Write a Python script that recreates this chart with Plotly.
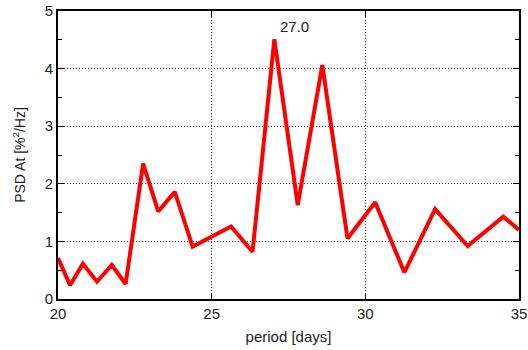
import plotly.graph_objects as go

period = [20.0, 20.39, 20.81, 21.27, 21.75, 22.2, 22.77, 23.26, 23.8, 24.38,
          25.63, 26.33, 27.04, 27.8, 28.6, 29.42, 30.32, 31.27, 32.27, 33.33,
          34.49, 35.0]
psd = [0.71, 0.24, 0.61, 0.30, 0.59, 0.26, 2.35, 1.52, 1.86, 0.91,
       1.26, 0.82, 4.51, 1.63, 4.06, 1.05, 1.68, 0.46, 1.56, 0.92,
       1.43, 1.20]
peak_label = "27.0"
peak_x = 27.04
peak_y = 4.51

fig = go.Figure()
fig.add_trace(go.Scatter(x=period, y=psd, mode="lines",
                         line=dict(color="#ff0000", width=4),
                         showlegend=False, cliponaxis=True))
fig.add_annotation(x=peak_x, y=peak_y, text=peak_label, showarrow=False,
                   xanchor="left", yanchor="bottom", xshift=4, yshift=2,
                   font=dict(size=15, color="#222"))

axis_common = dict(showline=True, linecolor="black", linewidth=2, mirror="ticks",
                   ticks="inside", ticklen=6, tickcolor="black",
                   showgrid=True, gridcolor="#333", griddash="1px,2px", gridwidth=1,
                   zeroline=False, tickfont=dict(size=15, color="#222"),
                   automargin=False)
fig.update_xaxes(range=[20, 35], tickvals=[20, 25, 30, 35],
                 title=dict(text="period [days]", font=dict(size=15, color="#222"), standoff=10),
                 **axis_common)
fig.update_yaxes(range=[0, 5], tickvals=[0, 1, 2, 3, 4, 5],
                 minor=dict(ticks="inside", dtick=0.5, ticklen=4, tickcolor="black", showgrid=False),
                 title=dict(text="PSD At [%<sup>2</sup>/Hz]", font=dict(size=14, color="#222"), standoff=16),
                 **axis_common)
fig.update_layout(width=528, height=350, margin=dict(l=58, r=9, t=11, b=51),
                  plot_bgcolor="white", paper_bgcolor="white",
                  font=dict(family="Liberation Sans, Arial, sans-serif"))
fig.write_html("out.html")
